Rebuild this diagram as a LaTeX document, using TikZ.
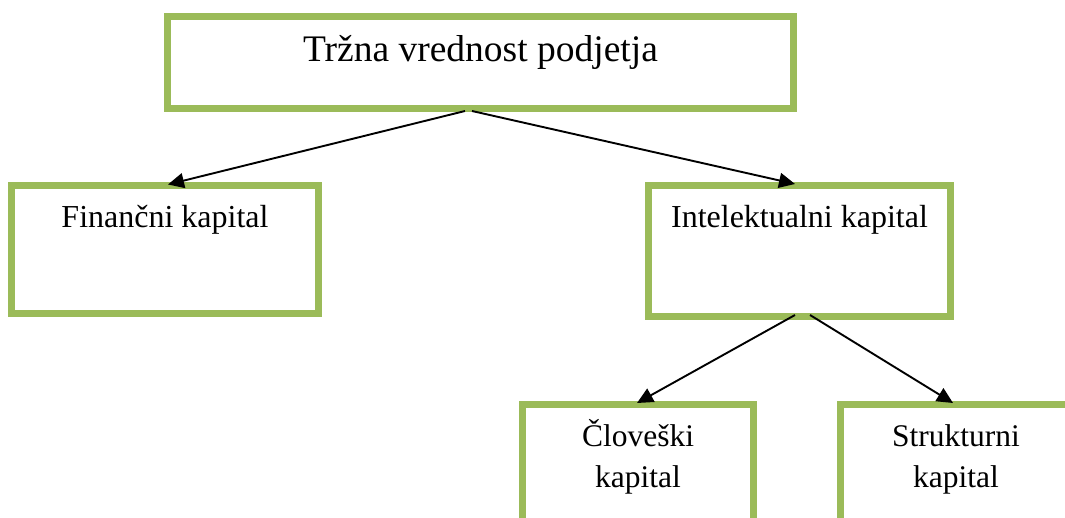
\documentclass[tikz,border=0pt]{standalone}
\usepackage{fontspec}
\setmainfont{Liberation Serif}
\usetikzlibrary{arrows.meta}
\definecolor{boxgreen}{HTML}{9BBB59}
\begin{document}
\begin{tikzpicture}[x=1pt,y=-1pt,
  box/.style={draw=boxgreen,line width=7pt,fill=white,rectangle,inner sep=0pt,outer sep=0pt},
  lbl/.style={inner sep=0pt,anchor=base,font=\fontsize{32}{37}\selectfont},
  conn/.style={line width=1.9pt,-{Triangle[length=16pt,width=15pt]}}]
\clip (0,0) rectangle (1065,518);
\useasboundingbox (0,0) rectangle (1065,518);
\node[box,minimum width=626pt,minimum height=92pt] (top) at (480.5,62.5) {};
\node[box,minimum width=307pt,minimum height=128pt] (fin) at (165,250) {};
\node[box,minimum width=302pt,minimum height=131pt] (int) at (799.5,251) {};
\node[box,minimum width=231pt,minimum height=160pt] (clo) at (638,484.5) {};
\node[box,minimum width=231pt,minimum height=160pt] (str) at (956,484.5) {};
\node[lbl,font=\fontsize{37.5}{40}\selectfont] (toplbl) at (480.5,62) {Tržna vrednost podjetja};
\node[lbl] (finlbl) at (165,228) {Finančni kapital};
\node[lbl] (intlbl) at (799.5,228) {Intelektualni kapital};
\node[lbl,align=center,font=\fontsize{31.5}{41}\selectfont] (clolbl) at (638,487) {Človeški\\kapital};
\node[lbl,align=center,font=\fontsize{31.5}{41}\selectfont] (strlbl) at (956,487) {Strukturni\\kapital};
\draw[conn] ([xshift=-15.5pt,yshift=-2.5pt]top.south) -- ([xshift=3pt,yshift=1.5pt]fin.north);
\draw[conn] ([xshift=-8.5pt,yshift=-2.5pt]top.south) -- ([xshift=-4.5pt,yshift=1.5pt]int.north);
\draw[conn] ([xshift=-4.5pt,yshift=1.5pt]int.south) -- ([xshift=-1pt,yshift=1.5pt]clo.north);
\draw[conn] ([xshift=10.5pt,yshift=1.5pt]int.south) -- ([xshift=-3pt,yshift=1.5pt]str.north);
\end{tikzpicture}
\end{document}
